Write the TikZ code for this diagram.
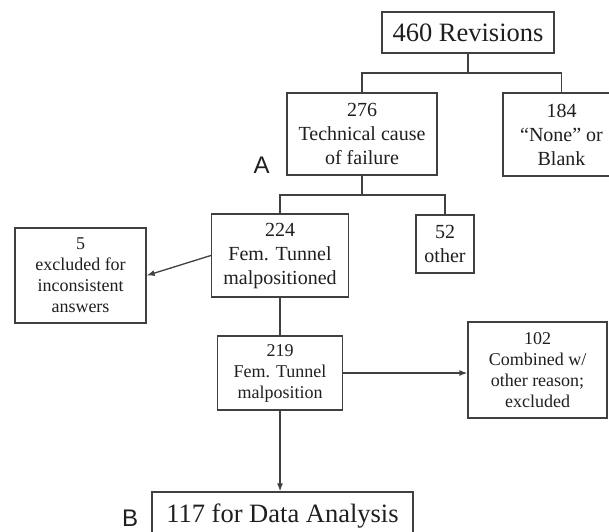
\documentclass[tikz,border=0pt]{standalone}
\usepackage{fontspec}
\setmainfont{Liberation Serif}
\newfontfamily\lettersans{Liberation Sans}
\usetikzlibrary{arrows.meta}
\definecolor{linec}{gray}{0.25}
\definecolor{textc}{gray}{0.12}
\tikzset{
  box/.style={draw=linec, line width=1.3pt, inner sep=0pt, align=center, text=textc},
  bigtext/.style={font=\fontsize{26.5}{30}\selectfont},
  midtext/.style={font=\fontsize{20}{24}\selectfont},
  smalltext/.style={font=\fontsize{18}{21}\selectfont},
  conn/.style={draw=linec, line width=1.3pt},
  arr/.style={conn, -{Latex[length=8pt,width=6pt]}},
  letter/.style={inner sep=0pt, text=textc, font=\lettersans\fontsize{24}{28}\selectfont}
}
\begin{document}
\begin{tikzpicture}[x=1pt,y=-1pt]
\useasboundingbox (0,0) rectangle (609,531);
\fill[white] (0,0) rectangle (609,531);
\clip (0,0) rectangle (609,531);

\node[box,bigtext,minimum width=172pt,minimum height=41pt] (rev) at (468,32.5) {460 Revisions};
\node[box,midtext,minimum width=150pt,minimum height=82pt] (tech) at (362,134) {276\\Technical cause\\of failure};
\node[box,midtext,minimum width=117pt,minimum height=83pt] (none) at (561.5,134.5) {184\\``None'' or\\Blank};
\node[box,midtext,minimum width=137pt,minimum height=83pt] (fem224) at (280,255.5) {224\\Fem. Tunnel\\malpositioned};
\node[box,midtext,minimum width=58pt,minimum height=58pt] (other) at (445,244) {52\\other};
\node[box,smalltext,minimum width=131pt,minimum height=95pt] (ex5) at (80.5,275.5) {5\\excluded for\\inconsistent\\answers};
\node[box,smalltext,minimum width=125pt,minimum height=74pt] (fem219) at (280,373) {219\\Fem. Tunnel\\malposition};
\node[box,smalltext,minimum width=139pt,minimum height=96pt] (comb) at (537.5,370) {102\\Combined w/\\other reason;\\excluded};
\node[box,bigtext,minimum width=261pt,minimum height=47.6pt] (data) at (282.5,515.8) {117 for Data Analysis};

\node[letter] (la) at (261.5,165.5) {A};
\node[letter,anchor=north west] (lb) at (122,510) {B};

\coordinate (j1) at (468,73);
\coordinate (j2) at (362,195);
\draw[conn] (rev.south) -- (j1);
\draw[conn] (tech.north) |- (j1) -| (none.north);
\draw[conn] (tech.south) -- (j2);
\draw[conn] (fem224.north) |- (j2) -| (other.north);
\draw[conn] (fem224.south) -- (fem219.north);
\draw[arr] (fem224.west) -- (ex5.east);
\draw[arr] (fem219.east) -- (fem219.east -| comb.west);
\draw[arr] (fem219.south) -- (fem219.south |- data.north);
\end{tikzpicture}
\end{document}
